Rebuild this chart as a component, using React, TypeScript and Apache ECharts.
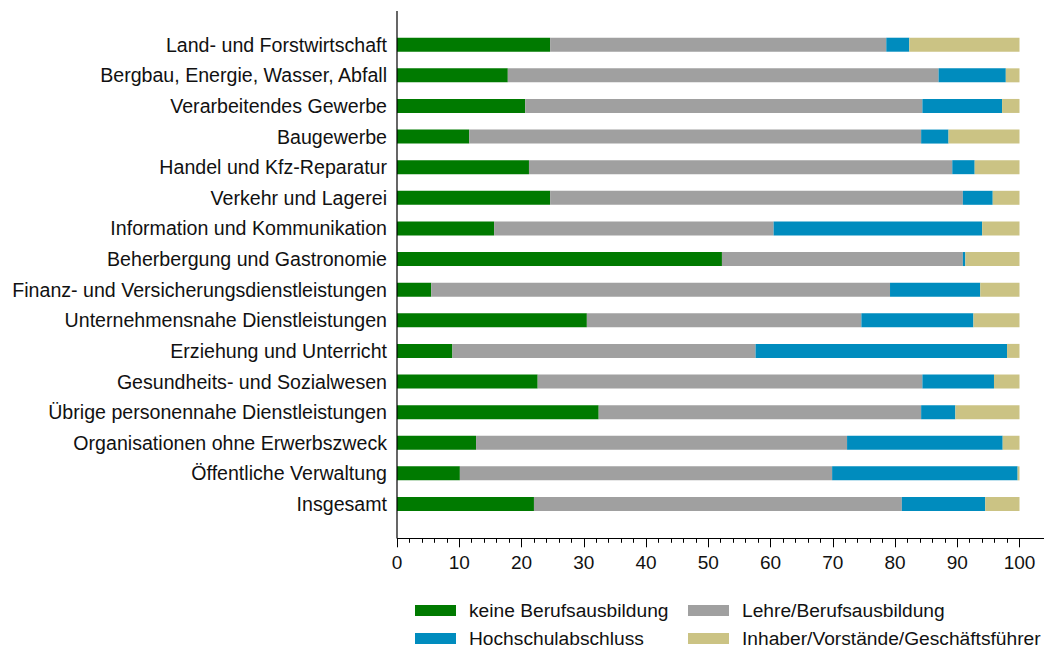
import React, { useEffect, useRef } from "react";
import * as echarts from "echarts";

const categories = [
  "Land- und Forstwirtschaft",
  "Bergbau, Energie, Wasser, Abfall",
  "Verarbeitendes Gewerbe",
  "Baugewerbe",
  "Handel und Kfz-Reparatur",
  "Verkehr und Lagerei",
  "Information und Kommunikation",
  "Beherbergung und Gastronomie",
  "Finanz- und Versicherungsdienstleistungen",
  "Unternehmensnahe Dienstleistungen",
  "Erziehung und Unterricht",
  "Gesundheits- und Sozialwesen",
  "Übrige personennahe Dienstleistungen",
  "Organisationen ohne Erwerbszweck",
  "Öffentliche Verwaltung",
  "Insgesamt",
];

const keineBerufsausbildung = [24.6, 17.8, 20.6, 11.6, 21.2, 24.6, 15.6, 52.2, 5.5, 30.5, 8.9, 22.6, 32.4, 12.7, 10.1, 22.0];
const lehreBerufsausbildung = [54.0, 69.2, 63.8, 72.6, 68.0, 66.3, 44.9, 38.7, 73.7, 44.1, 48.7, 61.8, 51.8, 59.6, 59.8, 59.1];
const hochschulabschluss = [3.7, 10.8, 12.8, 4.4, 3.6, 4.8, 33.5, 0.4, 14.5, 18.0, 40.4, 11.5, 5.5, 25.0, 29.8, 13.4];
const inhaber = [17.7, 2.2, 2.8, 11.4, 7.2, 4.3, 6.0, 8.7, 6.3, 7.4, 2.0, 4.1, 10.3, 2.7, 0.3, 5.5];

const seriesNames = [
  "keine Berufsausbildung",
  "Lehre/Berufsausbildung",
  "Hochschulabschluss",
  "Inhaber/Vorstände/Geschäftsführer",
];
const seriesData = [keineBerufsausbildung, lehreBerufsausbildung, hochschulabschluss, inhaber];
const colors = ["#007A00", "#A0A0A0", "#008CBE", "#CBC384"];

const FONT = "'Liberation Sans', Arial, sans-serif";

export default function App() {
  const ref = useRef<HTMLDivElement>(null);

  useEffect(() => {
    if (!ref.current) return;
    const chart = echarts.init(ref.current, undefined, { renderer: "svg" });

    const legendPos = [
      { left: 415, top: 601 },
      { left: 688, top: 601 },
      { left: 415, top: 629 },
      { left: 688, top: 629 },
    ];

    chart.setOption({
      animation: false,
      backgroundColor: "#ffffff",
      textStyle: { fontFamily: FONT },
      legend: seriesNames.map((n, i) => ({
        data: [n],
        left: legendPos[i].left,
        top: legendPos[i].top,
        padding: 0,
        icon: "rect",
        itemWidth: 41,
        itemHeight: 11,
        selectedMode: false,
        textStyle: {
          fontSize: 19.2,
          lineHeight: 16,
          color: "#111",
          fontFamily: FONT,
          padding: [0, 0, 0, 8],
        },
      })),
      grid: {
        left: 397,
        right: 30.5,
        top: 29.4,
        bottom: 128.7,
        containLabel: false,
      },
      xAxis: {
        type: "value",
        min: 0,
        max: 100,
        interval: 10,
        offset: 19,
        axisLine: { show: false },
        axisTick: { show: true, length: 9, lineStyle: { color: "#000", width: 1 } },
        minorTick: { show: true, splitNumber: 5, length: 4.5, lineStyle: { color: "#000", width: 1 } },
        splitLine: { show: false },
        minorSplitLine: { show: false },
        axisLabel: { fontSize: 19, color: "#111", margin: 15, fontFamily: FONT },
      },
      yAxis: {
        type: "category",
        data: categories,
        inverse: true,
        axisLine: { show: false },
        axisTick: { show: false },
        axisLabel: { fontSize: 19.6, color: "#111", margin: 10, fontFamily: FONT },
      },
      graphic: [
        {
          type: "line",
          shape: { x1: 397, y1: 11, x2: 397, y2: 538.5 },
          style: { stroke: "#000", lineWidth: 1.2 },
          z: 100,
        },
        {
          type: "line",
          shape: { x1: 397, y1: 538.5, x2: 1044, y2: 538.5 },
          style: { stroke: "#000", lineWidth: 1.2 },
          z: 100,
        },
      ],
      series: seriesNames.map((n, i) => ({
        name: n,
        type: "bar",
        stack: "total",
        barWidth: 14,
        data: seriesData[i],
        itemStyle: { color: colors[i] },
        emphasis: { disabled: true },
      })),
    });

    return () => chart.dispose();
  }, []);

  return (
    <div
      ref={ref}
      style={{ position: "fixed", left: 0, top: 0, width: 1050, height: 648 }}
    />
  );
}
